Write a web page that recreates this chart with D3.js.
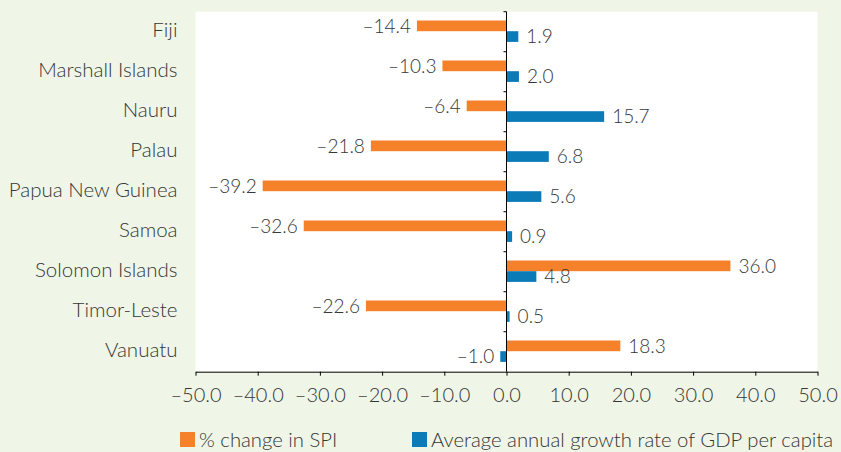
<html>
<head>
  <meta charset="utf-8">
  <title>SPI vs GDP per capita</title>
  <style>
    body { margin: 0; background: #eff5e7; }
    svg { display: block; }
    text { font-family: Lato, "Open Sans", sans-serif; font-weight: 300; fill: #363636; }
  </style>
  <script src="https://d3js.org/d3.v7.min.js"></script>
</head>
<body>
  <div id="chart"></div>
  <script>
    // chart data
    const countries = ["Fiji", "Marshall Islands", "Nauru", "Palau", "Papua New Guinea",
                       "Samoa", "Solomon Islands", "Timor-Leste", "Vanuatu"];
    const spiChange = [-14.4, -10.3, -6.4, -21.8, -39.2, -32.6, 36.0, -22.6, 18.3];
    const gdpGrowth = [1.9, 2.0, 15.7, 6.8, 5.6, 0.9, 4.8, 0.5, -1.0];
    const xTicks = [-50, -40, -30, -20, -10, 0, 10, 20, 30, 40, 50];
    const seriesNames = ["% change in SPI", "Average annual growth rate of GDP per capita"];
    const seriesColors = ["#f5822a", "#0a7bb7"];

    const width = 841, height = 452;
    const margin = { top: 11.7, right: 23.5, bottom: 80.3, left: 195.5 };

    const svg = d3.select("#chart").append("svg")
      .attr("width", width)
      .attr("height", height);

    // white plot area
    svg.append("rect")
      .attr("x", margin.left)
      .attr("y", margin.top)
      .attr("width", width - margin.left - margin.right)
      .attr("height", height - margin.top - margin.bottom)
      .style("fill", "#fff");

    const x = d3.scaleLinear().domain([-50, 50]).range([margin.left, width - margin.right]);
    const y = d3.scaleBand().domain(countries).range([margin.top, height - margin.bottom]);
    const barH = 10.7;

    // number format with en dash for negatives
    const fmt = v => (v < 0 ? "\u2013" : "") + Math.abs(v).toFixed(1);

    const rows = countries.map((c, i) => ({ c: c, spi: spiChange[i], gdp: gdpGrowth[i] }));

    // bars
    const series = [
      { key: "spi", color: seriesColors[0], off: -barH - 0.5 },
      { key: "gdp", color: seriesColors[1], off: -0.5 }
    ];
    series.forEach(s => {
      svg.append("g").selectAll("rect").data(rows).join("rect")
        .attr("x", d => x(Math.min(0, d[s.key])))
        .attr("y", d => y(d.c) + y.bandwidth() / 2 + s.off)
        .attr("width", d => Math.abs(x(d[s.key]) - x(0)))
        .attr("height", barH)
        .style("fill", s.color);

      svg.append("g").selectAll("text").data(rows).join("text")
        .attr("x", d => d[s.key] < 0 ? x(d[s.key]) - 6 : x(d[s.key]) + 8)
        .attr("y", d => y(d.c) + y.bandwidth() / 2 + s.off + barH / 2)
        .attr("dy", "0.36em")
        .attr("text-anchor", d => d[s.key] < 0 ? "end" : "start")
        .attr("font-size", 19)
        .text(d => fmt(d[s.key]));
    });

    // x axis
    const xAxis = svg.append("g")
      .attr("transform", "translate(0," + (height - margin.bottom) + ")")
      .call(d3.axisBottom(x).tickValues(xTicks).tickSize(4).tickSizeOuter(0).tickFormat(fmt));
    xAxis.select(".domain").attr("stroke", "#000");
    xAxis.selectAll(".tick line").attr("stroke", "#000");
    xAxis.selectAll(".tick text")
      .attr("font-size", 20)
      .attr("font-family", null)
      .attr("y", 16)
      .attr("dy", "0.71em");

    // y axis line at zero with ticks between categories
    const yAxis = svg.append("g");
    yAxis.append("line")
      .attr("x1", x(0)).attr("x2", x(0))
      .attr("y1", margin.top).attr("y2", height - margin.bottom)
      .attr("stroke", "#000");
    yAxis.selectAll("line.t").data(countries).join("line")
      .attr("class", "t")
      .attr("x1", x(0) - 3).attr("x2", x(0))
      .attr("y1", d => y(d)).attr("y2", d => y(d))
      .attr("stroke", "#000");

    // category labels
    svg.append("g").selectAll("text").data(countries).join("text")
      .attr("x", margin.left - 18)
      .attr("y", d => y(d) + y.bandwidth() / 2 - 2)
      .attr("dy", "0.36em")
      .attr("text-anchor", "end")
      .attr("font-size", 20.5)
      .text(d => d);

    // legend
    const legendX = [180, 412];
    const legend = svg.append("g");
    seriesNames.forEach((n, i) => {
      legend.append("rect")
        .attr("x", legendX[i]).attr("y", 432)
        .attr("width", 15).attr("height", 15)
        .style("fill", seriesColors[i]);
      legend.append("text")
        .attr("x", legendX[i] + 19).attr("y", 440)
        .attr("dy", "0.36em")
        .attr("font-size", 20.3)
        .text(n);
    });
  </script>
</body>
</html>
